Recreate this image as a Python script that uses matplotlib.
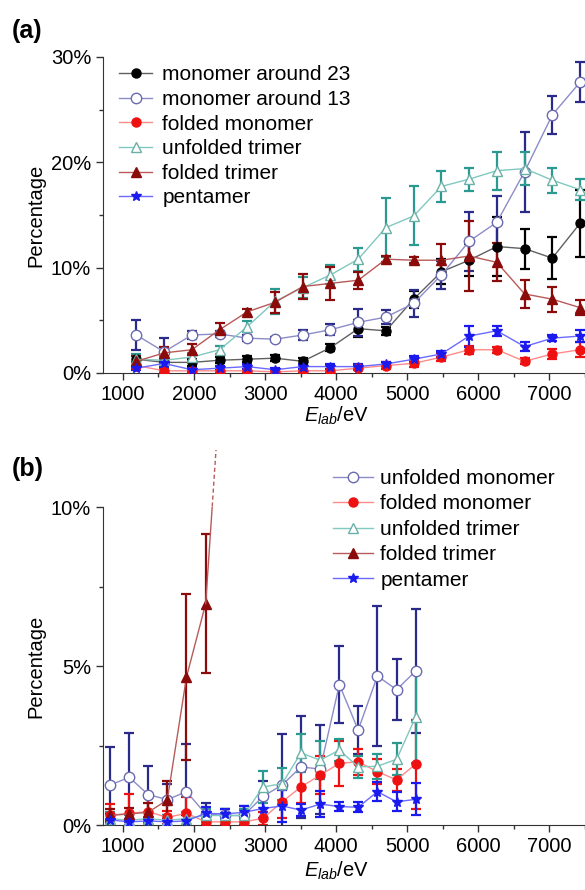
import matplotlib
matplotlib.use('Agg')
import matplotlib.pyplot as plt
from matplotlib.ticker import MultipleLocator, FuncFormatter
from matplotlib.patches import Rectangle

# Font settings
plt.rcParams['font.family'] = ['Liberation Sans', 'DejaVu Sans']
plt.rcParams.update({'font.size': 14.5})
plt.rcParams['mathtext.fontset'] = 'custom'
plt.rcParams['mathtext.rm'] = 'Liberation Sans'
plt.rcParams['mathtext.it'] = 'Liberation Sans:italic'

# ---------------- Data panel (a) ----------------
energy_a = [1190, 1580, 1970, 2360, 2750, 3140, 3530, 3920, 4310,
            4700, 5090, 5480, 5870, 6260, 6650, 7040, 7430]

mono23 = [1.3, 1.0, 1.0, 1.2, 1.3, 1.4, 1.1, 2.4, 4.2, 4.0, 7.0, 9.6, 10.7, 12.0, 11.8, 10.9, 14.2]
mono23_err = [0.4, 0.3, 0.3, 0.3, 0.3, 0.3, 0.3, 0.3, 0.8, 0.4, 0.8, 1.2, 1.5, 2.8, 1.9, 2.0, 3.2]

mono13 = [3.6, 2.0, 3.6, 3.7, 3.3, 3.2, 3.6, 4.1, 4.8, 5.3, 6.6, 9.3, 12.5, 14.3, 19.1, 24.5, 27.6]
mono13_err = [1.4, 1.3, 0.4, 0.3, 0.3, 0.2, 0.5, 0.5, 1.3, 0.7, 1.3, 1.3, 2.8, 2.5, 3.8, 1.8, 1.9]

fmono_a = [0.7, 0.2, 0.2, 0.2, 0.2, 0.1, 0.2, 0.2, 0.45, 0.7, 0.9, 1.5, 2.2, 2.2, 1.1, 1.8, 2.2]
fmono_a_err = [0.3, 0.2, 0.2, 0.2, 0.2, 0.1, 0.2, 0.2, 0.2, 0.3, 0.3, 0.4, 0.4, 0.3, 0.3, 0.5, 0.7]

utri_a = [1.3, 1.2, 1.5, 2.2, 4.4, 6.8, 8.1, 9.3, 10.8, 13.8, 14.9, 17.7, 18.4, 19.2, 19.4, 18.3, 17.4]
utri_a_err = [0.5, 0.4, 0.4, 0.4, 0.5, 1.2, 1.0, 0.9, 1.1, 2.8, 2.8, 1.5, 1.1, 1.8, 1.6, 1.2, 1.0]

ftri_a = [1.1, 1.9, 2.2, 4.1, 5.8, 6.7, 8.2, 8.5, 8.8, 10.8, 10.7, 10.7, 11.1, 10.5, 7.5, 7.0, 6.2]
ftri_a_err = [0.5, 0.6, 0.5, 0.6, 0.3, 1.0, 1.2, 1.6, 0.8, 0.3, 0.3, 1.5, 3.3, 1.8, 1.3, 1.2, 0.7]

penta_a = [0.45, 0.9, 0.3, 0.45, 0.6, 0.3, 0.6, 0.6, 0.6, 0.85, 1.3, 1.8, 3.5, 4.0, 2.5, 3.3, 3.5]
penta_a_err = [0.2, 0.3, 0.2, 0.2, 0.2, 0.2, 0.2, 0.2, 0.2, 0.2, 0.3, 0.3, 1.0, 0.5, 0.4, 0.3, 0.6]

# ---------------- Data panel (b) ----------------
energy_b = [820, 1090, 1355, 1625, 1895, 2165, 2430, 2700, 2970, 3240,
            3505, 3775, 4045, 4310, 4580, 4850, 5120]

umono_b = [1.26, 1.5, 0.96, 0.8, 1.05, 0.35, 0.3, 0.3, 0.9, 1.26, 1.83, 1.76, 4.42, 2.99, 4.69, 4.26, 4.85]
umono_b_err = [1.2, 1.4, 0.9, 0.5, 1.5, 0.35, 0.2, 0.3, 0.5, 1.6, 1.6, 1.4, 1.2, 0.75, 2.2, 0.95, 1.95]

fmono_b = [0.31, 0.37, 0.42, 0.24, 0.37, 0.1, 0.1, 0.1, 0.21, 0.73, 1.2, 1.57, 1.94, 1.99, 1.68, 1.42, 1.92]
fmono_b_err = [0.35, 0.6, 0.45, 0.2, 0.5, 0.1, 0.1, 0.1, 0.2, 0.5, 0.5, 0.6, 0.7, 0.4, 0.4, 0.35, 1.4]

utri_b = [0.2, 0.15, 0.2, 0.15, 0.2, 0.3, 0.3, 0.3, 1.2, 1.3, 2.27, 2.04, 2.36, 1.83, 1.85, 2.07, 3.41]
utri_b_err = [0.2, 0.15, 0.2, 0.15, 0.2, 0.2, 0.2, 0.2, 0.5, 0.5, 0.6, 0.6, 0.35, 0.35, 0.4, 0.5, 1.45]

energy_ftri_b = [820, 1090, 1355, 1625, 1895, 2165]
ftri_b = [0.3, 0.35, 0.4, 0.79, 4.66, 6.97]
ftri_b_err = [0.2, 0.2, 0.3, 0.6, 2.6, 2.2]
# off-scale continuation of the folded trimer curve
ftri_b_next_x = [2165, 2430]
ftri_b_next_y = [6.97, 15.8]

penta_b = [0.16, 0.1, 0.13, 0.1, 0.13, 0.37, 0.35, 0.4, 0.52, 0.6, 0.47, 0.66, 0.58, 0.56, 1.05, 0.73, 0.81]
penta_b_err = [0.2, 0.1, 0.1, 0.1, 0.2, 0.2, 0.15, 0.2, 0.3, 0.5, 0.2, 0.4, 0.15, 0.15, 0.3, 0.3, 0.5]

# styles: (line colour, errorbar colour, marker, face colour, edge colour, marker size)
st_m23 = ('#606060', 'black', 'o', 'black', 'black', 6.5)
st_m13 = ('#8c8cc8', '#2a2a8a', 'o', 'white', '#6a6ab0', 7.5)
st_fm = ('#ff8a8a', '#ee1111', 'o', '#ee1111', '#ee1111', 6.5)
st_ut = ('#80c8c0', '#2a9a90', '^', 'white', '#6ab0a8', 7.5)
st_ft = ('#b85a5a', '#8b0a0a', '^', '#8b0a0a', '#8b0a0a', 7)
st_pe = ('#6a6aff', '#1a1aee', '*', '#1a1aee', '#1a1aee', 7.5)


def draw(ax, x, y, err, style, label):
    lc, ec, mk, fc, mc, ms = style
    ax.errorbar(x, y, yerr=err, fmt='none', ecolor=ec, elinewidth=1.6,
                capsize=3.5, capthick=1.6, zorder=2)
    ln, = ax.plot(x, y, color=lc, lw=1.0, marker=mk, ms=ms, mfc=fc, mec=mc,
                  mew=1.0, label=label, zorder=3)
    return ln


def style_axes(ax, ymax, ymajor, xlab_y):
    ax.spines['top'].set_visible(False)
    ax.spines['right'].set_visible(False)
    ax.spines['left'].set_color('#333333')
    ax.spines['bottom'].set_color('#333333')
    ax.set_xlim(720, 7500)
    ax.set_ylim(0, ymax)
    ax.xaxis.set_major_locator(MultipleLocator(1000))
    ax.xaxis.set_minor_locator(MultipleLocator(500))
    ax.yaxis.set_major_locator(MultipleLocator(ymajor))
    ax.yaxis.set_minor_locator(MultipleLocator(ymajor / 2))
    ax.yaxis.set_major_formatter(FuncFormatter(lambda v, p: '%d%%' % round(v)))
    ax.tick_params(which='major', direction='out', length=5, width=1, color='#333333')
    ax.tick_params(which='minor', direction='out', length=3, width=1, color='#333333')
    ax.set_xlabel(r'$E_{lab}$/eV')
    ax.xaxis.set_label_coords(0.485, xlab_y)
    ax.set_ylabel('Percentage')
    ax.yaxis.set_label_coords(-0.12, 0.5)


fig = plt.figure(figsize=(5.85, 8.9), dpi=100)

# Panel (a)
ax1 = fig.add_axes([0.176, 0.581, 0.824, 0.355])
draw(ax1, energy_a, mono23, mono23_err, st_m23, 'monomer around 23')
draw(ax1, energy_a, mono13, mono13_err, st_m13, 'monomer around 13')
draw(ax1, energy_a, fmono_a, fmono_a_err, st_fm, 'folded monomer')
draw(ax1, energy_a, utri_a, utri_a_err, st_ut, 'unfolded trimer')
draw(ax1, energy_a, ftri_a, ftri_a_err, st_ft, 'folded trimer')
draw(ax1, energy_a, penta_a, penta_a_err, st_pe, 'pentamer')
style_axes(ax1, 30, 10, -0.102)
ax1.legend(loc='upper left', bbox_to_anchor=(0.015, 1.0), borderaxespad=0,
           frameon=False, handlelength=1.63, handletextpad=0.48, labelspacing=0.27,
           fontsize=15)
fig.text(0.02, 0.965, '(a)', fontsize=18, fontweight='bold', va='center')

# Panel (b)
ax2 = fig.add_axes([0.176, 0.073, 0.824, 0.357])
draw(ax2, energy_b, umono_b, umono_b_err, st_m13, 'unfolded monomer')
draw(ax2, energy_b, fmono_b, fmono_b_err, st_fm, 'folded monomer')
draw(ax2, energy_b, utri_b, utri_b_err, st_ut, 'unfolded trimer')
draw(ax2, energy_ftri_b, ftri_b, ftri_b_err, st_ft, 'folded trimer')
draw(ax2, energy_b, penta_b, penta_b_err, st_pe, 'pentamer')
# continuation of folded trimer: solid inside axes, dashed just above the top
ax2.plot(ftri_b_next_x, ftri_b_next_y, color=st_ft[0], lw=1.0, zorder=3)
dash, = ax2.plot(ftri_b_next_x, ftri_b_next_y, color=st_ft[0], lw=1.0,
                 ls=(0, (3, 2)), zorder=3)
dash.set_clip_path(Rectangle((2100, 10), 400, 1.8, transform=ax2.transData))
style_axes(ax2, 10, 5, -0.108)
ax2.legend(loc='upper left', bbox_to_anchor=(0.459, 1.147), borderaxespad=0,
           frameon=False, handlelength=1.92, handletextpad=0.38, labelspacing=0.31,
           fontsize=15)
fig.text(0.02, 0.473, '(b)', fontsize=18, fontweight='bold', va='center')

plt.savefig('out.png', dpi=100)
